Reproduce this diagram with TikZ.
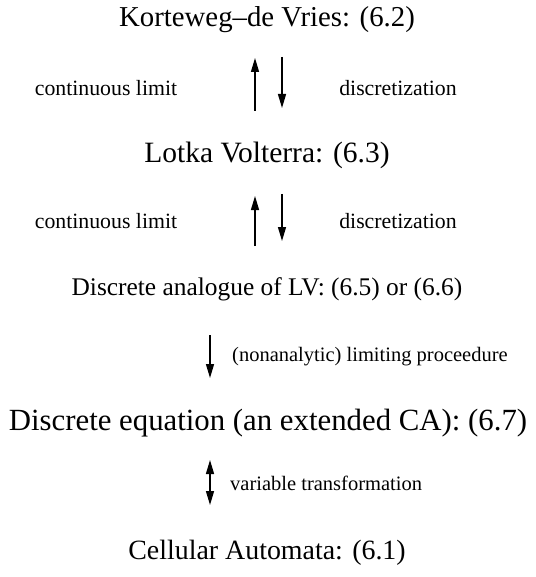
\documentclass[tikz,border=0pt]{standalone}
\usepackage{fontspec}
\setmainfont{Liberation Serif}
\usetikzlibrary{arrows.meta}
\begin{document}
\begin{tikzpicture}[x=1pt,y=-1pt,
  big/.style={font=\fontsize{#1}{36}\selectfont, inner sep=0pt},
  small/.style={font=\fontsize{21.8}{26}\selectfont, inner sep=0pt},
  smaller/.style={font=\fontsize{20.5}{24}\selectfont, inner sep=0pt},
  arr/.style={line width=1.3pt, -{Triangle[length=14pt,width=8pt]}},
  darr/.style={line width=1.3pt, {Triangle[length=14pt,width=8pt]}-{Triangle[length=14pt,width=8pt]}}]
\useasboundingbox (0,0) rectangle (535,577);
\node[big=28.8] (kdv) at (267,20) {Korteweg--de Vries: (6.2)};
\node[big=29.5] (lv) at (267,155) {Lotka Volterra: (6.3)};
\node[big=25.4] (dlv) at (267,289) {Discrete analogue of LV: (6.5) or (6.6)};
\node[big=30.8] (de) at (268,423) {Discrete equation (an extended CA): (6.7)};
\node[big=27.9] (ca) at (267,553) {Cellular Automata: (6.1)};

\node[small] (cl1) at (106,88) {continuous limit};
\node[small] (dz1) at (398,88) {discretization};
\node[small] (cl2) at (106,221) {continuous limit};
\node[small] (dz2) at (398,221) {discretization};
\node[smaller,anchor=west] (nl) at (232,357) {(nonanalytic) limiting proceedure};
\node[smaller,anchor=west] (vt) at (230,483) {variable transformation};

\coordinate (u1s) at (255,111); \coordinate (u1e) at (255,58);
\coordinate (d1s) at (282,57);  \coordinate (d1e) at (282,108);
\coordinate (u2s) at (255,246); \coordinate (u2e) at (255,196);
\coordinate (d2s) at (282,194); \coordinate (d2e) at (282,241);
\coordinate (d3s) at (210,335); \coordinate (d3e) at (210,378);
\coordinate (b4s) at (210,460); \coordinate (b4e) at (210,505);

\draw[arr] (u1s) -- (u1e);
\draw[arr] (d1s) -- (d1e);
\draw[arr] (u2s) -- (u2e);
\draw[arr] (d2s) -- (d2e);
\draw[arr] (d3s) -- (d3e);
\draw[darr] (b4s) -- (b4e);
\end{tikzpicture}
\end{document}
